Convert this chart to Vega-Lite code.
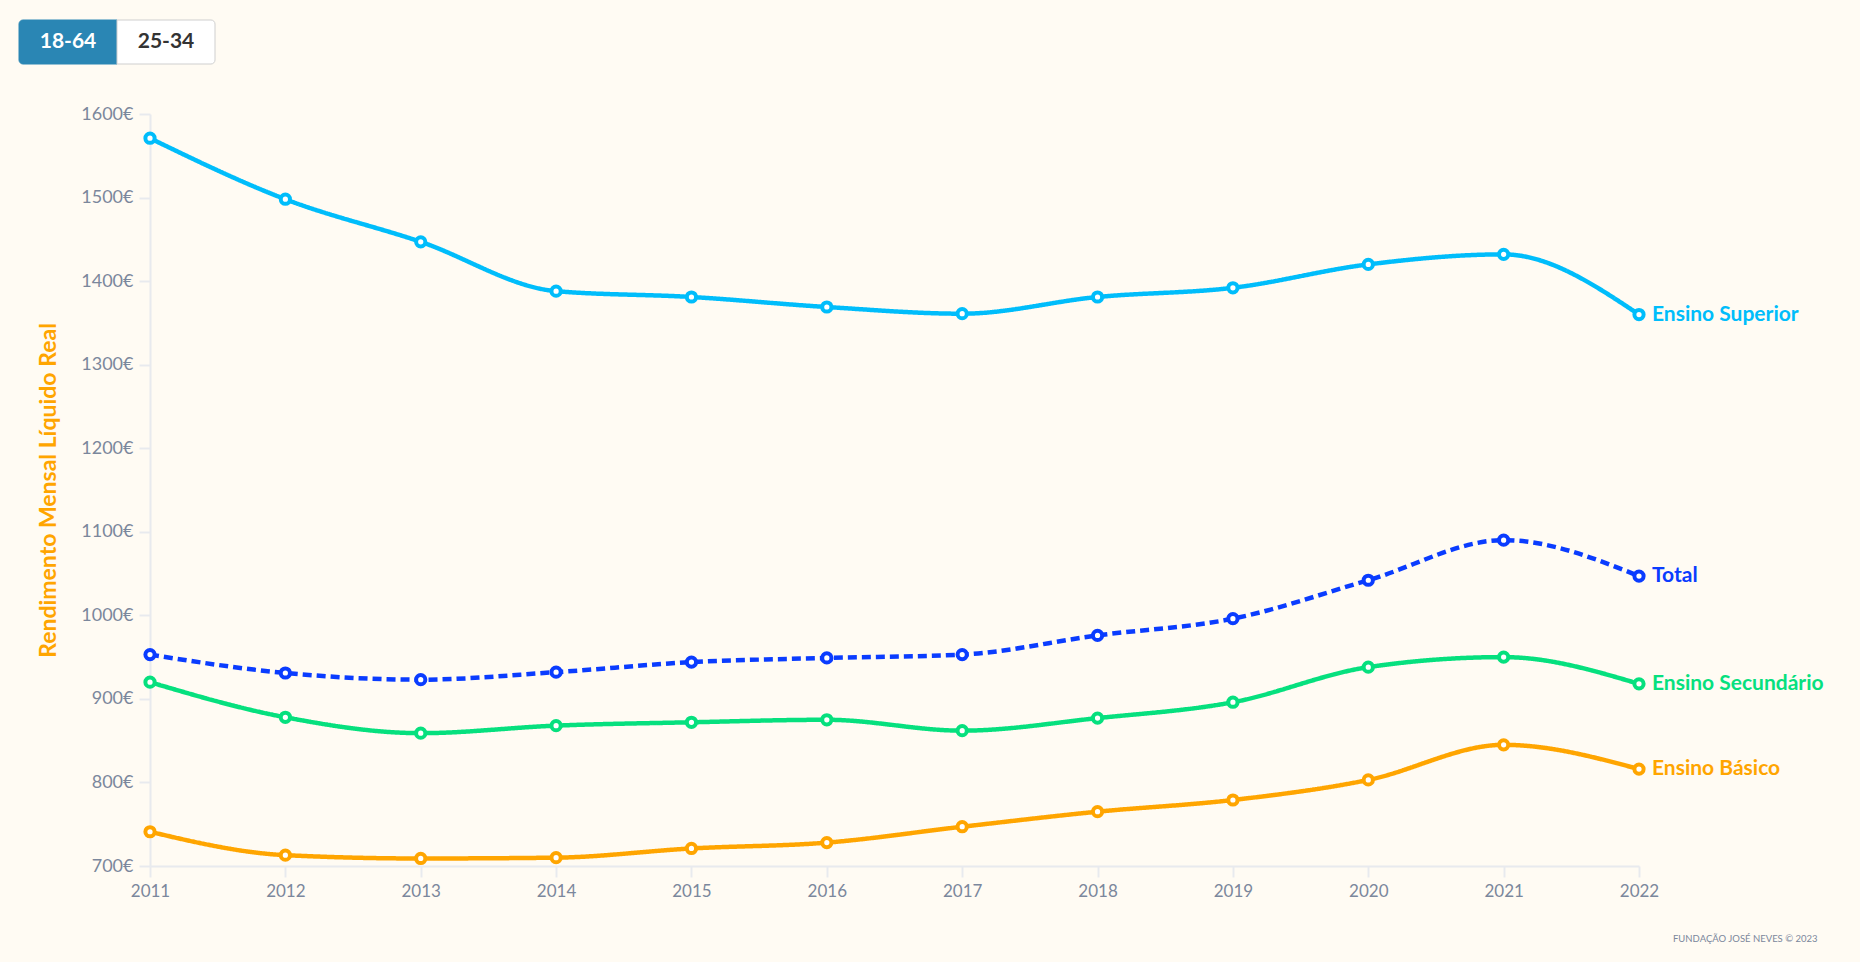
{
  "$schema": "https://vega.github.io/schema/vega-lite/v6.json",
  "description": "Rendimento mensal líquido real por nível de ensino, 18-64 anos.",
  "background": "#fffbf3",
  "padding": {"left": 18, "top": 19, "right": 36, "bottom": 18},
  "spacing": 40,
  "resolve": {"scale": {"fill": "independent", "stroke": "independent", "color": "independent"}},
  "config": {
    "font": "Lato",
    "view": {"stroke": null}
  },
  "datasets": {
    "rend": [
      {"ano": 2011, "serie": "Ensino Superior", "valor": 1571},
      {"ano": 2012, "serie": "Ensino Superior", "valor": 1498},
      {"ano": 2013, "serie": "Ensino Superior", "valor": 1447},
      {"ano": 2014, "serie": "Ensino Superior", "valor": 1388},
      {"ano": 2015, "serie": "Ensino Superior", "valor": 1381},
      {"ano": 2016, "serie": "Ensino Superior", "valor": 1369},
      {"ano": 2017, "serie": "Ensino Superior", "valor": 1361},
      {"ano": 2018, "serie": "Ensino Superior", "valor": 1381},
      {"ano": 2019, "serie": "Ensino Superior", "valor": 1392},
      {"ano": 2020, "serie": "Ensino Superior", "valor": 1420},
      {"ano": 2021, "serie": "Ensino Superior", "valor": 1432},
      {"ano": 2022, "serie": "Ensino Superior", "valor": 1360},
      {"ano": 2011, "serie": "Total", "valor": 953},
      {"ano": 2012, "serie": "Total", "valor": 931},
      {"ano": 2013, "serie": "Total", "valor": 923},
      {"ano": 2014, "serie": "Total", "valor": 932},
      {"ano": 2015, "serie": "Total", "valor": 944},
      {"ano": 2016, "serie": "Total", "valor": 949},
      {"ano": 2017, "serie": "Total", "valor": 953},
      {"ano": 2018, "serie": "Total", "valor": 976},
      {"ano": 2019, "serie": "Total", "valor": 996},
      {"ano": 2020, "serie": "Total", "valor": 1042},
      {"ano": 2021, "serie": "Total", "valor": 1090},
      {"ano": 2022, "serie": "Total", "valor": 1047},
      {"ano": 2011, "serie": "Ensino Secundário", "valor": 920},
      {"ano": 2012, "serie": "Ensino Secundário", "valor": 878},
      {"ano": 2013, "serie": "Ensino Secundário", "valor": 859},
      {"ano": 2014, "serie": "Ensino Secundário", "valor": 868},
      {"ano": 2015, "serie": "Ensino Secundário", "valor": 872},
      {"ano": 2016, "serie": "Ensino Secundário", "valor": 875},
      {"ano": 2017, "serie": "Ensino Secundário", "valor": 862},
      {"ano": 2018, "serie": "Ensino Secundário", "valor": 877},
      {"ano": 2019, "serie": "Ensino Secundário", "valor": 896},
      {"ano": 2020, "serie": "Ensino Secundário", "valor": 938},
      {"ano": 2021, "serie": "Ensino Secundário", "valor": 950},
      {"ano": 2022, "serie": "Ensino Secundário", "valor": 918},
      {"ano": 2011, "serie": "Ensino Básico", "valor": 741},
      {"ano": 2012, "serie": "Ensino Básico", "valor": 713},
      {"ano": 2013, "serie": "Ensino Básico", "valor": 709},
      {"ano": 2014, "serie": "Ensino Básico", "valor": 710},
      {"ano": 2015, "serie": "Ensino Básico", "valor": 721},
      {"ano": 2016, "serie": "Ensino Básico", "valor": 728},
      {"ano": 2017, "serie": "Ensino Básico", "valor": 747},
      {"ano": 2018, "serie": "Ensino Básico", "valor": 765},
      {"ano": 2019, "serie": "Ensino Básico", "valor": 779},
      {"ano": 2020, "serie": "Ensino Básico", "valor": 803},
      {"ano": 2021, "serie": "Ensino Básico", "valor": 845},
      {"ano": 2022, "serie": "Ensino Básico", "valor": 816}
    ]
  },
  "vconcat": [
    {
      "width": 196,
      "height": 44,
      "data": {"values": [
        {"grupo": "18-64", "ativo": "sim"},
        {"grupo": "25-34", "ativo": "nao"}
      ]},
      "encoding": {
        "x": {
          "field": "grupo", "type": "nominal", "axis": null,
          "scale": {"type": "band", "range": [-131, 65], "paddingInner": 0, "paddingOuter": 0}
        }
      },
      "layer": [
        {
          "mark": {
            "type": "bar",
            "strokeWidth": 1,
            "cornerRadiusTopLeft": {"expr": "datum.grupo === '18-64' ? 4 : 0"},
            "cornerRadiusBottomLeft": {"expr": "datum.grupo === '18-64' ? 4 : 0"},
            "cornerRadiusTopRight": {"expr": "datum.grupo === '25-34' ? 4 : 0"},
            "cornerRadiusBottomRight": {"expr": "datum.grupo === '25-34' ? 4 : 0"}
          },
          "encoding": {
            "fill": {"field": "ativo", "type": "nominal", "legend": null,
              "scale": {"domain": ["sim", "nao"], "range": ["#2a86b4", "#ffffff"]}},
            "stroke": {"field": "ativo", "type": "nominal", "legend": null,
              "scale": {"domain": ["sim", "nao"], "range": ["#2a86b4", "#cfcfcf"]}}
          }
        },
        {
          "mark": {"type": "text", "fontSize": 21, "fontWeight": "bold", "baseline": "middle", "align": "center"},
          "encoding": {
            "text": {"field": "grupo"},
            "y": {"value": 22},
            "color": {"field": "ativo", "type": "nominal", "legend": null,
              "scale": {"domain": ["sim", "nao"], "range": ["#ffffff", "#333333"]}}
          }
        }
      ]
    },
    {
      "width": 1489,
      "height": 752,
      "data": {"name": "rend"},
      "title": {
        "text": "FUNDAÇÃO JOSÉ NEVES © 2023",
        "orient": "bottom",
        "anchor": "end",
        "frame": "bounds",
        "fontSize": 9.5,
        "fontWeight": "normal",
        "color": "#7b879c",
        "offset": 35,
        "dx": -6
      },
      "encoding": {
        "x": {
          "field": "ano", "type": "quantitative", "title": null,
          "scale": {"domain": [2011, 2022], "nice": false, "zero": false},
          "axis": {
            "values": [2011, 2012, 2013, 2014, 2015, 2016, 2017, 2018, 2019, 2020, 2021, 2022],
            "format": "d", "grid": false,
            "domainColor": "#e8eaee", "domainWidth": 2,
            "tickColor": "#e8eaee", "tickWidth": 2, "tickSize": 11,
            "labelColor": "#7b879c", "labelFontSize": 17, "labelPadding": 6,
            "labelFlush": false
          }
        },
        "y": {
          "field": "valor", "type": "quantitative",
          "title": "Rendimento Mensal Líquido Real",
          "scale": {"domain": [700, 1600], "nice": false, "zero": false},
          "axis": {
            "values": [700, 800, 900, 1000, 1100, 1200, 1300, 1400, 1500, 1600],
            "labelExpr": "datum.value + '€'", "grid": false,
            "domainColor": "#e8eaee", "domainWidth": 2,
            "tickColor": "#e8eaee", "tickWidth": 2, "tickSize": 11,
            "labelColor": "#7b879c", "labelFontSize": 18, "labelPadding": 6,
            "titleColor": "#ffa500", "titleFontSize": 23, "titleFontWeight": "bold",
            "titlePadding": 20
          }
        }
      },
      "layer": [
        {
          "mark": {"type": "line", "interpolate": "monotone", "strokeWidth": 4.5},
          "encoding": {
            "detail": {"field": "serie"},
            "stroke": {"field": "serie", "type": "nominal", "legend": null,
              "scale": {"domain": ["Ensino Superior", "Total", "Ensino Secundário", "Ensino Básico"],
                        "range": ["#00bdfb", "#0a3cff", "#06e07e", "#ffa500"]}},
            "strokeDash": {"field": "serie", "type": "nominal", "legend": null,
              "scale": {"domain": ["Ensino Superior", "Total", "Ensino Secundário", "Ensino Básico"],
                        "range": [[1, 0], [9, 5], [1, 0], [1, 0]]}}
          }
        },
        {
          "mark": {"type": "point", "shape": "circle", "fill": "#ffffff", "filled": false, "size": 85, "strokeWidth": 4, "opacity": 1},
          "encoding": {
            "stroke": {"field": "serie", "type": "nominal", "legend": null,
              "scale": {"domain": ["Ensino Superior", "Total", "Ensino Secundário", "Ensino Básico"],
                        "range": ["#00bdfb", "#0a3cff", "#06e07e", "#ffa500"]}}
          }
        },
        {
          "transform": [{"filter": "datum.ano === 2022"}],
          "mark": {"type": "text", "align": "left", "baseline": "middle", "dx": 13, "fontSize": 21, "fontWeight": "bold"},
          "encoding": {
            "text": {"field": "serie"},
            "color": {"field": "serie", "type": "nominal", "legend": null,
              "scale": {"domain": ["Ensino Superior", "Total", "Ensino Secundário", "Ensino Básico"],
                        "range": ["#00bdfb", "#0a3cff", "#06e07e", "#ffa500"]}}
          }
        }
      ]
    }
  ]
}
